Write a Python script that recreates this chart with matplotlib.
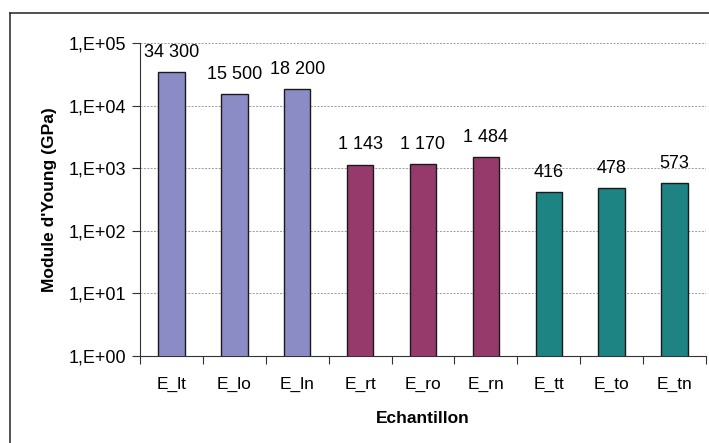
import numpy as np
import matplotlib.pyplot as plt
from matplotlib.lines import Line2D
from matplotlib.ticker import FixedLocator, NullLocator

plt.rcParams['font.family'] = ['Liberation Sans', 'DejaVu Sans']

# data
samples = ['E_lt', 'E_lo', 'E_ln', 'E_rt', 'E_ro', 'E_rn', 'E_tt', 'E_to', 'E_tn']
young = [34300, 15500, 18200, 1143, 1170, 1484, 416, 478, 573]
labels = ['34 300', '15 500', '18 200', '1 143', '1 170', '1 484', '416', '478', '573']
colors = ['#8B8CC6'] * 3 + ['#963A6C'] * 3 + ['#1D8383'] * 3

fig = plt.figure(figsize=(7.09, 4.43), dpi=100)
ax = fig.add_axes([140 / 709, 87 / 443, 566 / 709, 313 / 443])

x = np.arange(len(samples))
ax.bar(x, young, width=0.42, color=colors, edgecolor='#1a1a1a', linewidth=1.0, zorder=3)

ax.set_yscale('log')
ax.set_ylim(1, 1e5)
ax.set_xlim(-0.5, len(samples) - 0.5)

yt = [1, 10, 100, 1000, 10000, 100000]
ax.yaxis.set_major_locator(FixedLocator(yt))
ax.yaxis.set_minor_locator(NullLocator())
ax.set_yticklabels(['1,E+00', '1,E+01', '1,E+02', '1,E+03', '1,E+04', '1,E+05'])
ax.grid(axis='y', color='#9a9a9a', linestyle=(0, (2, 1.5)), linewidth=0.7, zorder=0)

# category ticks between bars, labels centered
ax.set_xticks(np.arange(len(samples) + 1) - 0.5)
ax.set_xticklabels([])
ax.set_xticks(x, minor=True)
ax.set_xticklabels(samples, minor=True)
ax.tick_params(axis='x', which='minor', length=0, pad=15, labelsize=12.5)
ax.tick_params(axis='x', which='major', length=6, direction='out', color='#333333')
ax.tick_params(axis='y', length=6, direction='out', labelsize=13, pad=4, color='#333333')

for s in ['top', 'right']:
    ax.spines[s].set_visible(False)
for s in ['left', 'bottom']:
    ax.spines[s].set_color('#333333')

for xi, v, lab in zip(x, young, labels):
    ax.annotate(lab, (xi, v), xytext=(0, 8), textcoords='offset points',
                ha='center', va='bottom', fontsize=13)

ax.set_ylabel("Module d'Young (GPa)", fontsize=12.5, fontweight='bold', labelpad=8)
ax.set_xlabel('Echantillon', fontsize=12.5, fontweight='bold', labelpad=14)

# outer chart border (left and top visible)
fig.add_artist(Line2D([10 / 709, 10 / 709], [0, 1 - 13 / 443], transform=fig.transFigure,
                      color='#333333', linewidth=1.2))
fig.add_artist(Line2D([10 / 709, 1], [1 - 13 / 443, 1 - 13 / 443], transform=fig.transFigure,
                      color='#333333', linewidth=1.2))

fig.savefig('out.png', dpi=100)
